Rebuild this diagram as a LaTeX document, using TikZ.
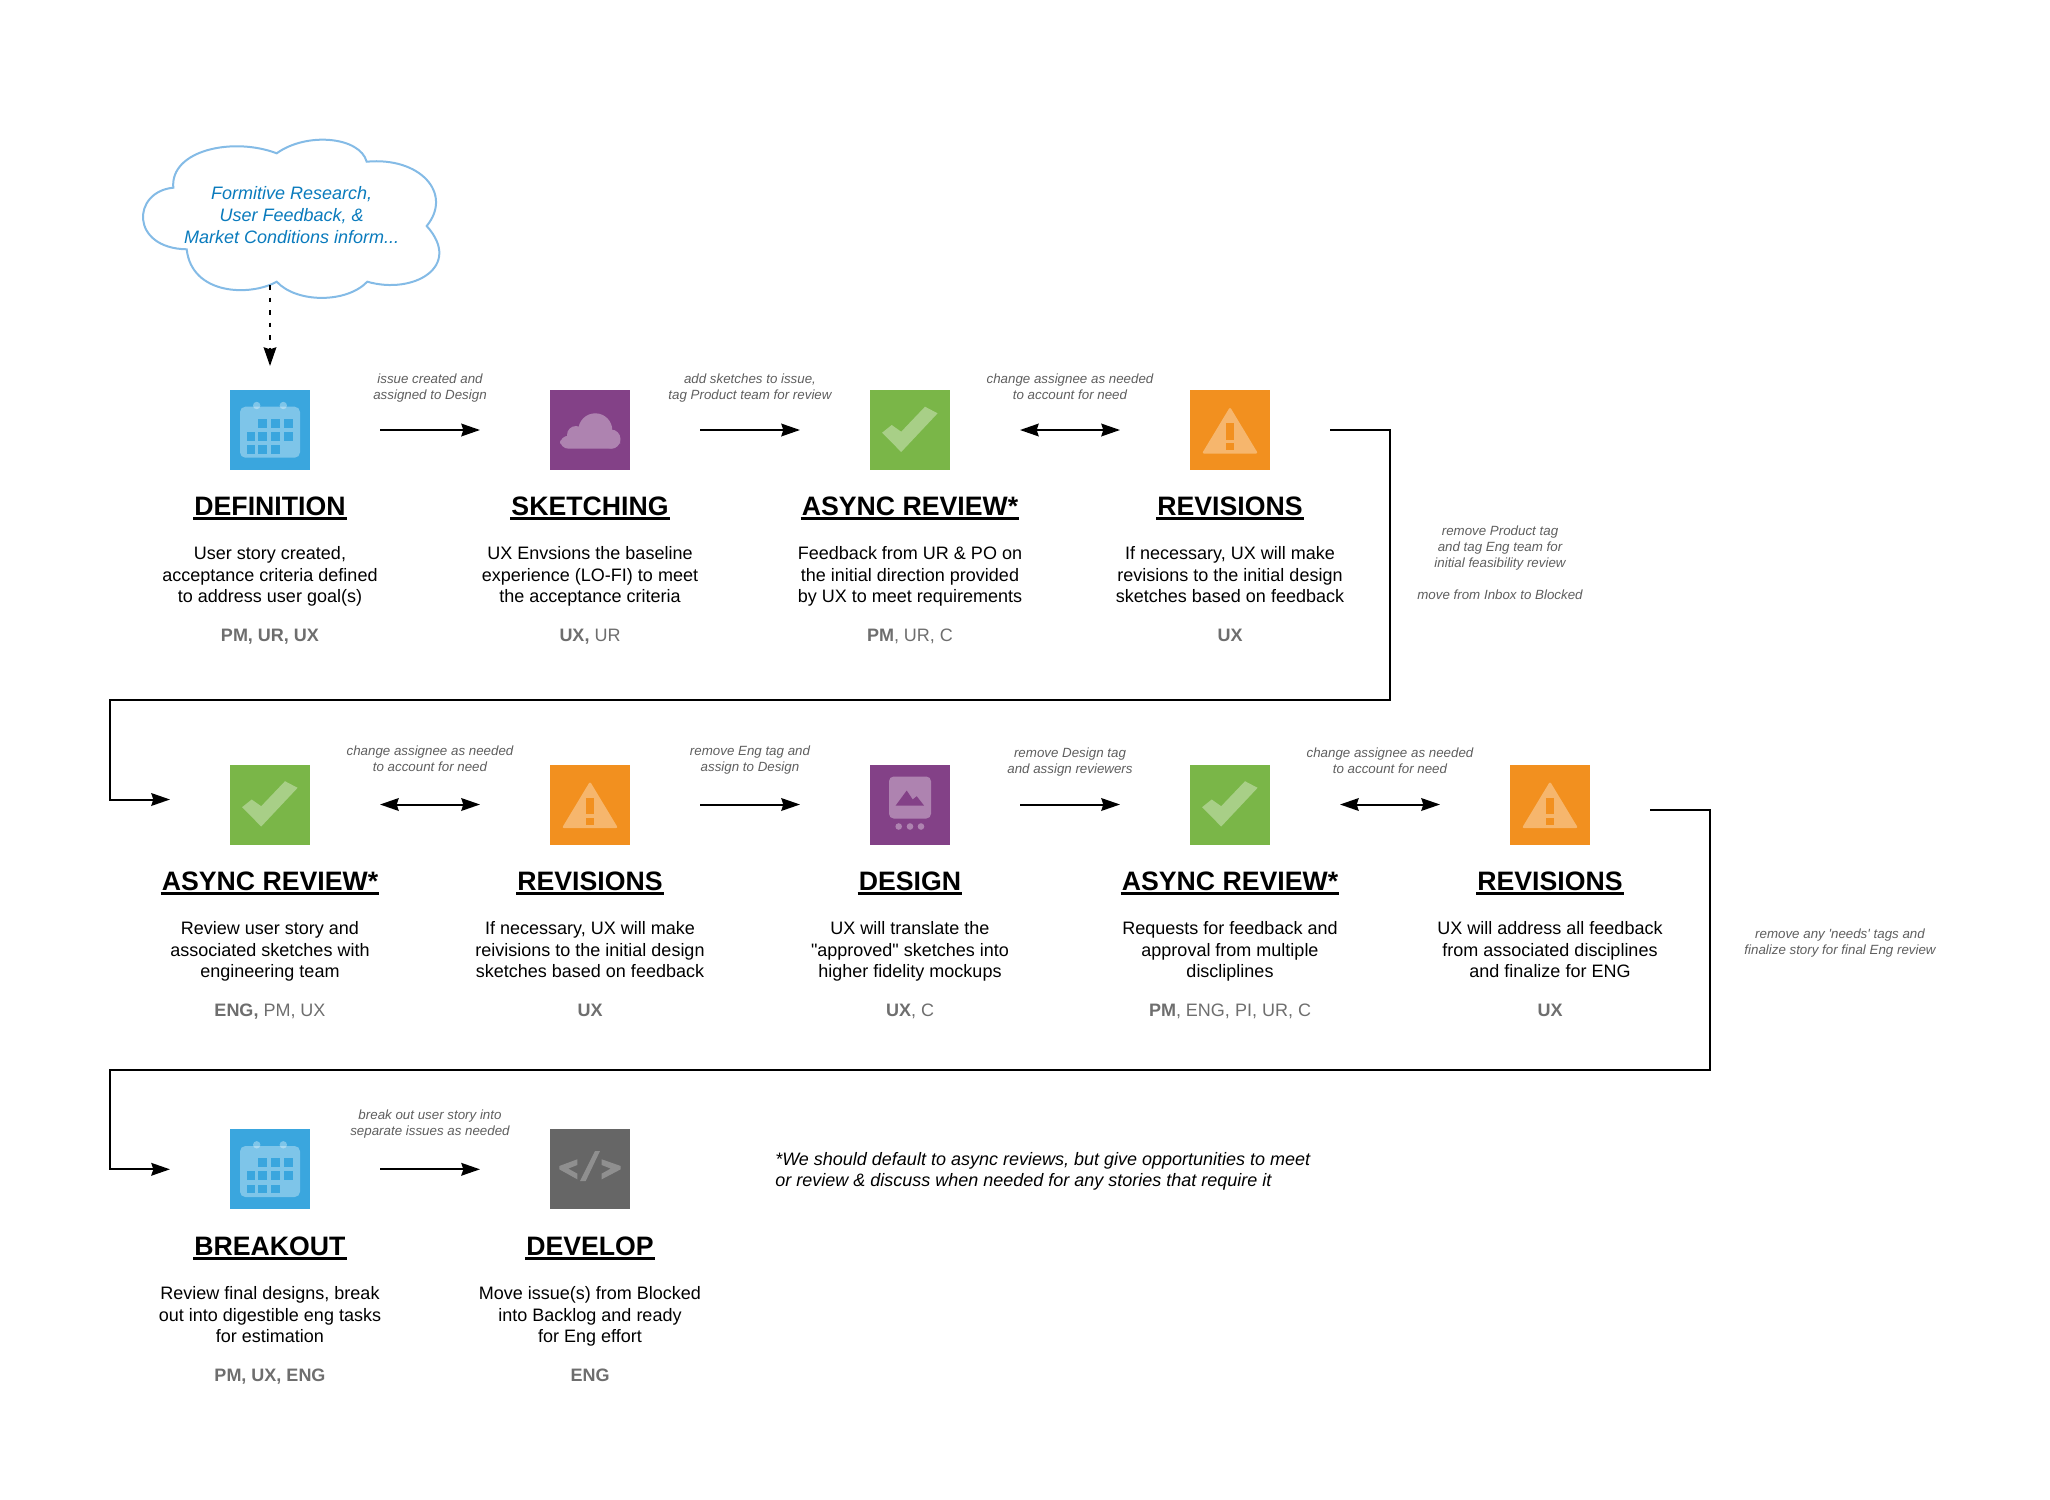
\documentclass[tikz,border=0pt]{standalone}
\usepackage{fontspec}
\setmainfont{Liberation Sans}[Ligatures=TeXOff]
\usetikzlibrary{arrows.meta,calc}
\definecolor{cblue}{HTML}{3AA6DE}
\definecolor{cpurple}{HTML}{834187}
\definecolor{cgreen}{HTML}{7AB648}
\definecolor{corange}{HTML}{F2901F}
\definecolor{cgray}{HTML}{666666}
\definecolor{cloudline}{HTML}{84BBE6}
\definecolor{cloudtext}{HTML}{0A7BBD}
\definecolor{labeltext}{HTML}{5E5E5E}
\definecolor{roletext}{HTML}{6E6E6E}
\tikzset{
  x=0.75pt,y=-0.75pt,
  iconbox/.style={draw=none,minimum width=60pt,minimum height=60pt,inner sep=0pt,outer sep=0pt},
  glyph/.style={fill=white,fill opacity=0.35,draw=none},
  conn/.style={line width=1.5pt,-{Stealth[length=14pt,width=9.5pt,inset=1.5pt]},shorten <=52.5pt,shorten >=52.5pt},
  conntwo/.style={line width=1.5pt,{Stealth[length=14pt,width=9.5pt,inset=1.5pt]}-{Stealth[length=14pt,width=9.5pt,inset=1.5pt]},shorten <=52.5pt,shorten >=52.5pt},
  route/.style={line width=1.5pt,line join=miter,-{Stealth[length=14pt,width=9.5pt,inset=1.5pt]},shorten <=45pt,shorten >=45pt},
  titletext/.style={font=\fontsize{20}{24}\selectfont\bfseries,inner sep=0pt,anchor=base},
  bodytext/.style={font=\fontsize{13.5}{16.1}\selectfont,align=center,inner sep=0pt,anchor=base},
  roletxt/.style={font=\fontsize{13.5}{16.1}\selectfont,text=roletext,inner sep=0pt,anchor=base},
  edgetext/.style={font=\fontsize{10}{12}\selectfont\itshape,text=labeltext,align=center,inner sep=0pt,anchor=base},
  ul/.style={line width=2.2pt},
}
\newcommand{\calicon}[1]{\begin{scope}[shift={(#1)}]
  \fill[glyph,rounded corners=4pt] (-30,-23.3) rectangle (30,27.7);
  \fill[glyph] (-13.3,-24.5) circle[radius=3.7];
  \fill[glyph] (13.3,-24.5) circle[radius=3.7];
  \foreach \a/\b in {-12/-11,1/-11,14.3/-11,-23.3/2,-12/2,1/2,14.3/2,-23.3/15.3,-12/15.3,1/15.3}{
    \fill[cblue] (\a,\b) rectangle ++(8.7,8.7);}
\end{scope}}
\newcommand{\cloudicon}[1]{\begin{scope}[shift={(#1)}]
  \begin{scope}[transparency group,opacity=0.35]
  \fill[white] (5.3,0.3) circle[radius=17];
  \fill[white] (-14,5) circle[radius=9];
  \fill[white] (21,9) circle[radius=9.5];
  \fill[white,rounded corners=6.4pt] (-30,5.7) rectangle (30,18.7);
  \end{scope}
\end{scope}}
\newcommand{\checkicon}[1]{\begin{scope}[shift={(#1)}]
  \fill[glyph] (-27.9,2.7) -- (-8.8,22) -- (27.6,-16.7) -- (15,-23.3) -- (-8.8,1.7) -- (-18.3,-5) -- cycle;
\end{scope}}
\newcommand{\warnicon}[1]{\begin{scope}[shift={(#1)}]
  \fill[glyph,rounded corners=1.5pt] (0,-23) -- (28,23.5) -- (-28,23.5) -- cycle;
  \fill[corange] (-3.6,-7) rectangle (3.6,9.5);
  \fill[corange] (-3.6,13) rectangle (3.6,20);
\end{scope}}
\newcommand{\designicon}[1]{\begin{scope}[shift={(#1)}]
  \fill[glyph,rounded corners=3.5pt] (-21,-28) rectangle (21,14);
  \fill[cpurple] (-14.3,1) -- (-3.3,-14) -- (2.7,-5) -- (6.7,-8.3) -- (14,1) -- cycle;
  \foreach \a in {-11.3,0,11}{\fill[glyph] (\a,22) circle[radius=3.3];}
\end{scope}}
\newcommand{\codeicon}[1]{\begin{scope}[shift={(#1)}]
  \fill[glyph,fill opacity=0.27] (-12.7,-10) -- (-12.7,-4.3) -- (-21.7,-0.7) -- (-12.7,4.3) -- (-12.7,10) -- (-30.7,0) -- (-30.7,-3.3) -- cycle;
  \fill[glyph,fill opacity=0.27] (11.7,-10) -- (11.7,-4.3) -- (20.7,-0.7) -- (11.7,4.3) -- (11.7,10) -- (30.7,0) -- (30.7,-3.3) -- cycle;
  \fill[glyph,fill opacity=0.27] (-10,11.7) -- (-4.3,11.7) -- (10,-18.3) -- (5,-18.3) -- cycle;
\end{scope}}
% name, centre x, text row offset, colour, title, body, role, icon centre y
\newcommand{\blockt}[8]{%
  \node[iconbox,fill=#4] (ic#1) at (#2,#8) {};
  \node[titletext] (t#1) at (#2,515+#3) {#5};
  \draw[ul] ($(t#1.base west)+(-1,3.5)$) -- ($(t#1.base east)+(1,3.5)$);
  \node[bodytext] (b#1) at (#2,602.6+#3) {#6};
  \node[roletxt] (r#1) at (#2,641+#3) {#7};
}
\begin{document}
\begin{tikzpicture}
\useasboundingbox (0,0) rectangle (2050,1500);
% cloud
\draw[cloudline,line width=1.5pt,fill=white] (173.3,187.7)
  .. controls (131.7,191.7) and (130,248.3) .. (186.7,249.3)
  .. controls (191.7,295) and (250,296.7) .. (276.7,281.7)
  .. controls (296.7,303.3) and (346.7,303.3) .. (367.3,281.7)
  .. controls (413.3,295) and (463.3,266.7) .. (426.7,226)
  .. controls (453.3,193.3) and (420,156.7) .. (366.7,161.7)
  .. controls (360,136.7) and (306.7,131.7) .. (276.7,153.3)
  .. controls (233.3,136.7) and (170,150) .. cycle;
\node[font=\fontsize{13.5}{16.25}\selectfont\itshape,text=cloudtext,align=center,inner sep=0pt,anchor=base] (cl) at (291.7,243) {Formitive Research,\\User Feedback, \&\\Market Conditions inform...};
\coordinate (cltail) at (270,285);
% row 1
\blockt{1}{270}{0}{cblue}{DEFINITION}{User story created,\\acceptance criteria defined\\to address user goal(s)}{\textbf{PM, UR, UX}}{430}
\blockt{2}{590}{0}{cpurple}{SKETCHING}{UX Envsions the baseline\\experience (LO-FI) to meet\\the acceptance criteria}{\textbf{UX,} UR}{430}
\blockt{3}{910}{0}{cgreen}{ASYNC REVIEW*}{Feedback from UR \& PO on\\the initial direction provided\\by UX to meet requirements}{\textbf{PM}, UR, C}{430}
\blockt{4}{1230}{0}{corange}{REVISIONS}{If necessary, UX will make\\revisions to the initial design\\sketches based on feedback}{\textbf{UX}}{430}
% row 2
\blockt{5}{270}{375}{cgreen}{ASYNC REVIEW*}{Review user story and\\associated sketches with\\engineering team}{\textbf{ENG,} PM, UX}{804.5}
\blockt{6}{590}{375}{corange}{REVISIONS}{If necessary, UX will make\\reivisions to the initial design\\sketches based on feedback}{\textbf{UX}}{804.5}
\blockt{7}{910}{375}{cpurple}{DESIGN}{UX will translate the\\"approved" sketches into\\higher fidelity mockups}{\textbf{UX}, C}{804.5}
\blockt{8}{1230}{375}{cgreen}{ASYNC REVIEW*}{Requests for feedback and\\approval from multiple\\discliplines}{\textbf{PM}, ENG, PI, UR, C}{804.5}
\blockt{9}{1550}{375}{corange}{REVISIONS}{UX will address all feedback\\from associated disciplines\\and finalize for ENG}{\textbf{UX}}{804.5}
% row 3
\blockt{10}{270}{740}{cblue}{BREAKOUT}{Review final designs, break\\out into digestible eng tasks\\for estimation}{\textbf{PM, UX, ENG}}{1169.3}
\blockt{11}{590}{740}{cgray}{DEVELOP}{Move issue(s) from Blocked\\into Backlog and ready\\for Eng effort}{\textbf{ENG}}{1169.3}
% glyphs
\calicon{270,430}\cloudicon{590,430}\checkicon{910,430}\warnicon{1230,430}
\checkicon{270,804.5}\warnicon{590,804.5}\designicon{910,804.5}\checkicon{1230,804.5}\warnicon{1550,804.5}
\calicon{270,1169.3}\codeicon{590,1169.3}
% connectors
\draw[line width=1.5pt,dash pattern=on 3.4pt off 6pt,-{Stealth[length=14pt,width=9.5pt,inset=1.5pt]},shorten >=18pt] (cltail) -- (ic1);
\draw[conn] (ic1) -- (ic2);
\draw[conn] (ic2) -- (ic3);
\draw[conntwo] (ic3) -- (ic4);
\coordinate (in5) at ($(ic5.west)+(0,-5)$);
\coordinate (in10) at (ic10.west);
\draw[route] (ic4.east) -- (1390,430) -- (1390,699.5) -- (110,699.5) -- (110,799.5) -- (in5);
\draw[conntwo] (ic5) -- (ic6);
\draw[conn] (ic6) -- (ic7);
\draw[conn] (ic7) -- (ic8);
\draw[conntwo] (ic8) -- (ic9);
\coordinate (out9) at ($(ic9.east)+(0,5)$);
\draw[route] (out9) -- (1710,809.5) -- (1710,1069.5) -- (110,1069.5) -- (110,1169.3) -- (in10);
\draw[conn] (ic10) -- (ic11);
% edge labels
\node[edgetext] (e1) at (430,399.5) {issue created and\\assigned to Design};
\node[edgetext] (e2) at (750,399.5) {add sketches to issue,\\tag Product team for review};
\node[edgetext] (e3) at (1070,399.5) {change assignee as needed\\to account for need};
\node[edgetext] (e4) at (1500,599.3) {remove Product tag\\and tag Eng team for\\initial feasibility review\\[12pt]move from Inbox to Blocked};
\node[edgetext] (e5) at (430,771) {change assignee as needed\\to account for need};
\node[edgetext] (e6) at (750,771) {remove Eng tag and\\assign to Design};
\node[edgetext] (e7) at (1070,773) {remove Design tag\\and assign reviewers};
\node[edgetext] (e8) at (1390,773) {change assignee as needed\\to account for need};
\node[edgetext] (e9) at (1840,954) {remove any 'needs' tags and\\finalize story for final Eng review};
\node[edgetext] (e10) at (430,1135) {break out user story into\\separate issues as needed};
% footnote
\node[font=\fontsize{13.5}{16.25}\selectfont\itshape,align=left,inner sep=0pt,anchor=base west] (fn) at (775,1186.7) {*We should default to async reviews, but give opportunities to meet\\or review \& discuss when needed for any stories that require it};
\end{tikzpicture}
\end{document}
